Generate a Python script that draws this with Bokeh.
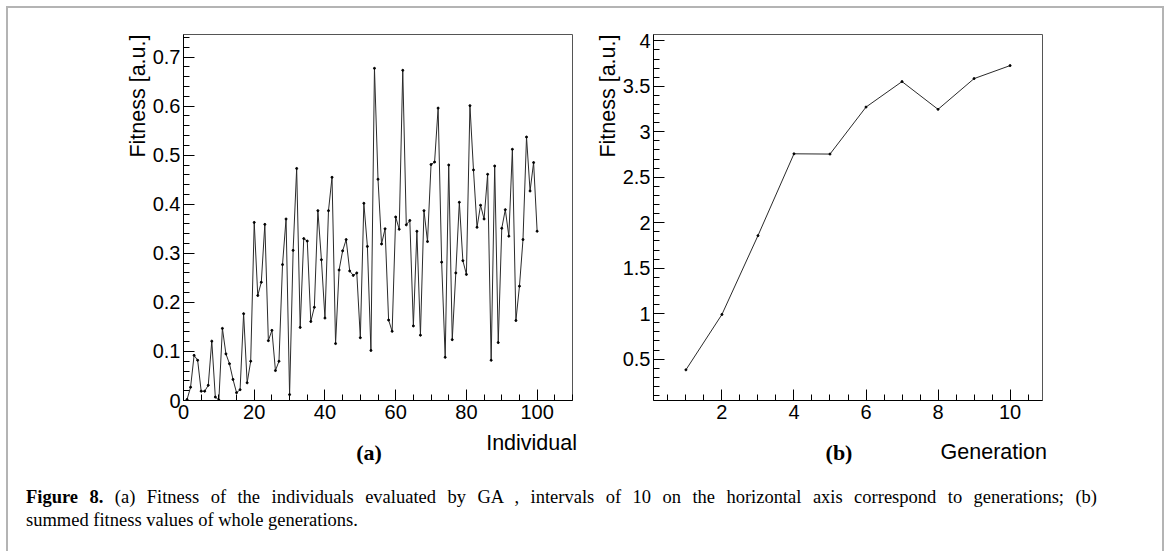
from bokeh.plotting import figure
from bokeh.models import Range1d, FixedTicker, Div, Title
from bokeh.layouts import row, column
from bokeh.embed import file_html
from bokeh.resources import INLINE

# ---------------- data ----------------
individual = list(range(1, 101))
fitness_individual = [
    0.002, 0.027, 0.092, 0.082, 0.019, 0.019, 0.031, 0.121, 0.007, 0.001,
    0.147, 0.095, 0.075, 0.043, 0.016, 0.022, 0.177, 0.036, 0.080, 0.363,
    0.214, 0.241, 0.359, 0.122, 0.143, 0.061, 0.080, 0.277, 0.370, 0.012,
    0.306, 0.473, 0.149, 0.330, 0.325, 0.161, 0.190, 0.387, 0.287, 0.168,
    0.387, 0.455, 0.116, 0.266, 0.305, 0.328, 0.264, 0.255, 0.260, 0.128,
    0.402, 0.314, 0.102, 0.677, 0.451, 0.319, 0.350, 0.164, 0.141, 0.374,
    0.349, 0.673, 0.358, 0.367, 0.152, 0.345, 0.133, 0.387, 0.324, 0.481,
    0.486, 0.596, 0.282, 0.088, 0.480, 0.124, 0.260, 0.404, 0.285, 0.257,
    0.601, 0.470, 0.353, 0.398, 0.370, 0.461, 0.082, 0.478, 0.118, 0.351,
    0.389, 0.335, 0.512, 0.163, 0.233, 0.328, 0.537, 0.427, 0.485, 0.345,
]
generation = list(range(1, 11))
fitness_generation = [0.382, 0.991, 1.858, 2.758, 2.755, 3.272, 3.552, 3.247, 3.585, 3.728]

left_x_ticks = [0, 20, 40, 60, 80, 100]
left_y_ticks = [0, 0.1, 0.2, 0.3, 0.4, 0.5, 0.6, 0.7]
left_y_labels = ["0", "0.1", "0.2", "0.3", "0.4", "0.5", "0.6", "0.7"]
right_x_ticks = [2, 4, 6, 8, 10]
right_y_ticks = [0.5, 1, 1.5, 2, 2.5, 3, 3.5, 4]
right_y_labels = ["0.5", "1", "1.5", "2", "2.5", "3", "3.5", "4"]

x_title_a = "Individual"
x_title_b = "Generation"
y_title = "Fitness [a.u.]"
caption_line1 = ("<b>Figure 8.</b> (a) Fitness of the individuals evaluated by GA , intervals of 10 "
                 "on the horizontal axis correspond to generations; (b)")
caption_line2 = "summed fitness values of whole generations."

FONT = "Liberation Sans"
FRAME_W = 389
FRAME_H = 366
TOP = 34
BOTTOM = 28
H = TOP + FRAME_H + BOTTOM          # 428
W1 = 183 + FRAME_W + 18             # 590
W2 = 63 + FRAME_W + 121             # 573
DIV_H = 120


def style(p, xt, xminor, yt, yminor, ylabels):
    p.xgrid.visible = False
    p.ygrid.visible = False
    p.border_fill_color = None
    p.background_fill_color = "white"
    p.outline_line_color = "#555555"
    p.outline_line_width = 1
    p.xaxis.ticker = FixedTicker(ticks=xt, minor_ticks=xminor)
    p.yaxis.ticker = FixedTicker(ticks=yt, minor_ticks=yminor)
    p.yaxis.major_label_overrides = {t: l for t, l in zip(yt, ylabels)}
    for ax in (p.xaxis[0], p.yaxis[0]):
        ax.axis_line_color = "black"
        ax.major_tick_line_color = "black"
        ax.minor_tick_line_color = "black"
        ax.major_tick_in = 11
        ax.major_tick_out = 0
        ax.minor_tick_in = 6
        ax.minor_tick_out = 0
        ax.major_label_text_font = FONT
        ax.major_label_text_font_size = "20px"
        ax.major_label_text_color = "black"
    p.xaxis.major_label_standoff = 4
    p.yaxis.major_label_standoff = 3
    t = Title(text=y_title, align="right", text_font=FONT, text_font_size="21.5px",
              text_font_style="normal", text_color="black", standoff=0, offset=0)
    p.add_layout(t, "left")


# ---------------- left plot ----------------
p1 = figure(width=W1, height=H, output_backend="svg",
            toolbar_location=None, x_range=Range1d(0, 110), y_range=Range1d(0, 0.746),
            min_border_left=183, min_border_right=18, min_border_top=TOP,
            min_border_bottom=BOTTOM)
p1.line(individual, fitness_individual, line_color="#2a2a2a", line_width=1)
p1.scatter(individual, fitness_individual, size=2, color="black")
style(p1, left_x_ticks, [i * 5 for i in range(0, 23)],
      left_y_ticks, [round(i * 0.02, 2) for i in range(0, 38)], left_y_labels)

# ---------------- right plot ----------------
p2 = figure(width=W2, height=H, output_backend="svg",
            toolbar_location=None, x_range=Range1d(0.1, 10.9), y_range=Range1d(0.045, 4.07),
            min_border_left=63, min_border_right=121, min_border_top=TOP,
            min_border_bottom=BOTTOM)
p2.line(generation, fitness_generation, line_color="#2a2a2a", line_width=1)
p2.scatter(generation, fitness_generation, size=2, color="black")
style(p2, right_x_ticks, [i * 0.5 for i in range(1, 22)],
      right_y_ticks, [round(i * 0.1, 1) for i in range(1, 41)], right_y_labels)

# ---------------- titles, sub-labels, caption ----------------
sans = "font-family:'Liberation Sans';font-size:21.5px;line-height:1;color:black;white-space:nowrap;"
serif_lab = ("font-family:'Liberation Serif';font-weight:bold;font-size:22px;line-height:1;"
             "color:black;white-space:nowrap;")
html = (
    f'<div style="position:relative;width:{W1 + W2}px;height:{DIV_H}px;">'
    f'<span style="position:absolute;top:0px;left:572px;transform:translateX(-100%);{sans}">{x_title_a}</span>'
    f'<span style="position:absolute;top:9px;left:1042px;transform:translateX(-100%);{sans}">{x_title_b}</span>'
    f'<span style="position:absolute;left:364px;top:9px;transform:translateX(-50%);{serif_lab}">(a)</span>'
    f'<span style="position:absolute;left:834px;top:9px;transform:translateX(-50%);{serif_lab}">(b)</span>'
    '<div style="position:absolute;left:21px;top:53px;font-family:\'Liberation Serif\';'
    'font-size:18.5px;line-height:23px;color:black;">'
    f'<div style="width:1071px;text-align:justify;text-align-last:justify;">{caption_line1}</div>'
    f'<div style="white-space:nowrap;">{caption_line2}</div>'
    '</div></div>'
)
caption = Div(text=html, width=W1 + W2, height=DIV_H)

g = "linear-gradient(#b4b4b4,#b4b4b4)"
bg = (f"{g} 7px 6px / 1157px 2px no-repeat, "
      f"{g} 6px 6px / 2px 560px no-repeat, "
      f"{g} 1162px 6px / 2px 560px no-repeat, white")

layout = column(row(p1, p2, spacing=0), caption, spacing=0, styles={"background": bg})

open("out.html", "w").write(file_html(layout, INLINE))
